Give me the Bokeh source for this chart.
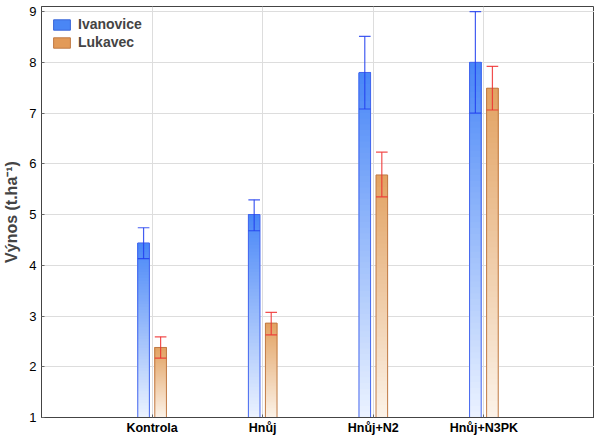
import numpy as np
from bokeh.plotting import figure
from bokeh.models import ColumnDataSource, FixedTicker, Legend, LegendItem, Range1d
from bokeh.embed import file_html
from bokeh.resources import INLINE

categories = ["Kontrola", "Hnůj", "Hnůj+N2", "Hnůj+N3PK"]
series = ["Ivanovice", "Lukavec"]
ivanovice = [4.44, 5.00, 7.80, 8.00]
ivanovice_lo = [4.13, 4.68, 7.08, 7.00]
ivanovice_hi = [4.74, 5.29, 8.51, 9.00]
lukavec = [2.38, 2.86, 5.78, 7.49]
lukavec_lo = [2.17, 2.63, 5.35, 7.06]
lukavec_hi = [2.59, 3.07, 6.23, 7.92]
y_ticks = [1, 2, 3, 4, 5, 6, 7, 8, 9]

BASE = 1.0
WIDTH = 0.105
OFFSET = 0.077
NSLICE = 60

p = figure(frame_width=553, frame_height=411, output_backend="svg", toolbar_location=None,
           x_range=Range1d(0, 5), y_range=Range1d(1, 9.1),
           min_border_left=0, min_border_right=0, min_border_top=6, min_border_bottom=0)

def hexc(rgb):
    return "#%02x%02x%02x" % tuple(int(round(c)) for c in rgb)

def grad_bars(xs, vals, top_rgb, bot_rgb):
    x_l, b_l, t_l, c_l = [], [], [], []
    top_rgb = np.array(top_rgb, float)
    bot_rgb = np.array(bot_rgb, float)
    for x, v in zip(xs, vals):
        edges = np.linspace(BASE, v, NSLICE + 1)
        for i in range(NSLICE):
            f = (i + 0.5) / NSLICE  # 0 bottom -> 1 top
            col = bot_rgb + (top_rgb - bot_rgb) * f
            # each slice runs to the bar top; later slices cover the upper part (no seams)
            x_l.append(x); b_l.append(edges[i]); t_l.append(v); c_l.append(hexc(col))
    src = ColumnDataSource(dict(x=x_l, bottom=b_l, top=t_l, color=c_l))
    p.vbar(x="x", bottom="bottom", top="top", width=WIDTH, fill_color="color",
           line_color=None, source=src)

pos = np.arange(1, len(categories) + 1)
x_iv = pos - OFFSET
x_lu = pos + OFFSET

grad_bars(x_iv, ivanovice, (72, 134, 247), (236, 243, 255))
grad_bars(x_lu, lukavec, (226, 162, 98), (252, 243, 233))

# outlines
p.vbar(x=x_iv, bottom=BASE, top=ivanovice, width=WIDTH, fill_alpha=0,
       line_color="#4466ee", line_width=1)
p.vbar(x=x_lu, bottom=BASE, top=lukavec, width=WIDTH, fill_alpha=0,
       line_color="#c07a45", line_width=1)

# error bars
def err(xs, lo, hi, color):
    kw = dict(line_color=color, line_width=1.2, line_alpha=0.85)
    p.segment(x0=xs, y0=lo, x1=xs, y1=hi, **kw)
    p.segment(x0=xs - WIDTH / 2, y0=hi, x1=xs + WIDTH / 2, y1=hi, **kw)
    p.segment(x0=xs - WIDTH / 2, y0=lo, x1=xs + WIDTH / 2, y1=lo, **kw)

err(x_iv, ivanovice_lo, ivanovice_hi, "#2240ee")
err(x_lu, lukavec_lo, lukavec_hi, "#ee3030")

# legend proxies (no visible data)
r1 = p.vbar(x=[np.nan], top=[np.nan], width=0.1, fill_color="#4a86f5", line_color="#3a66d8")
r2 = p.vbar(x=[np.nan], top=[np.nan], width=0.1, fill_color="#e29a58", line_color="#c07a45")
legend = Legend(items=[LegendItem(label=series[0], renderers=[r1]),
                       LegendItem(label=series[1], renderers=[r2])],
                location=(10, 367), border_line_color=None, background_fill_alpha=0,
                label_text_font="Liberation Sans", label_text_font_style="bold",
                label_text_font_size="14px", glyph_width=21, glyph_height=13,
                spacing=2, padding=4, margin=0, label_standoff=6, label_height=13)
p.add_layout(legend)

p.xaxis.ticker = FixedTicker(ticks=list(pos))
p.xaxis.major_label_overrides = {int(k): c for k, c in zip(pos, categories)}
p.yaxis.ticker = FixedTicker(ticks=y_ticks)

for ax in (p.xaxis, p.yaxis):
    ax.major_label_text_font = "Liberation Sans"
    ax.major_label_text_color = "black"
    ax.major_tick_out = 0
    ax.major_tick_in = 3
    ax.minor_tick_out = 0
    ax.minor_tick_in = 0
    ax.axis_line_color = "#444444"
    ax.major_tick_line_color = "#666666"

p.xaxis.major_label_text_font_style = "bold"
p.xaxis.major_label_text_font_size = "12.5px"
p.xaxis.major_label_standoff = 3
p.yaxis.major_label_text_font_size = "13px"
p.yaxis.major_label_standoff = 5
p.yaxis.axis_label = "Výnos (t.ha⁻¹)"
p.yaxis.axis_label_text_font = "Liberation Sans"
p.yaxis.axis_label_text_font_style = "bold"
p.yaxis.axis_label_text_font_size = "16px"
p.yaxis.axis_label_standoff = 6

p.xgrid.ticker = FixedTicker(ticks=list(pos))
p.xgrid.grid_line_color = "#dddddd"
p.ygrid.grid_line_color = "#dddddd"
p.outline_line_color = "#444444"
p.outline_line_width = 1
p.background_fill_color = "white"

open("out.html", "w").write(file_html(p, INLINE))
